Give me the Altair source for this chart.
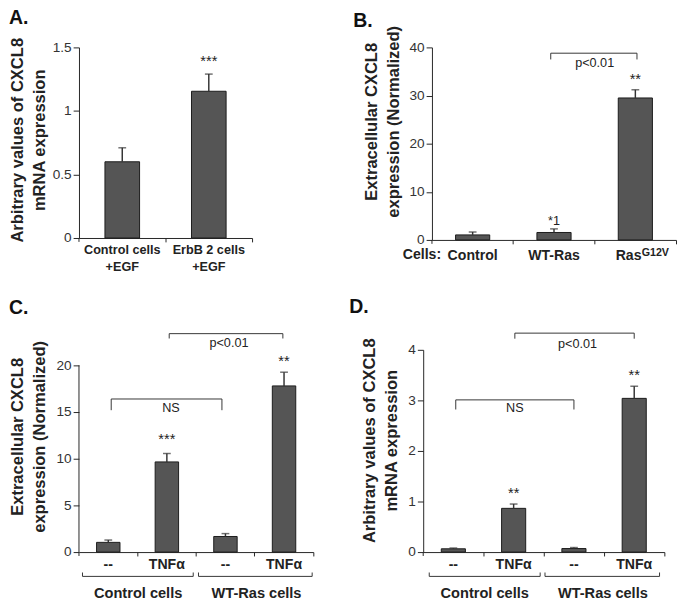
import altair as alt
import pandas as pd

FONT = "Liberation Sans"
INK = "#222222"
BAR = "#555555"

# ---------------- data ----------------
# Panel A
a_cats = ["Control cells|+EGF", "ErbB 2 cells|+EGF"]
a_vals = [0.60, 1.155]
a_errs = [0.71, 1.29]
a_star_cats = ["ErbB 2 cells|+EGF"]
a_star_vals = [1.35]
a_star_text = ["***"]

# Panel B
b_cats = ["Control", "WT-Ras", "RasG12V"]
b_vals = [1.05, 1.55, 29.5]
b_errs = [1.65, 2.3, 31.2]
b_star_cats = ["RasG12V"]
b_star_vals = [32.5]
b_star_text = ["**"]
b_note_cats = ["WT-Ras"]
b_note_vals = [3.15]
b_note_text = ["*1"]
b_br_x1 = [1.46]
b_br_x2 = [2.52]
b_br_top = [38.8]
b_br_bot = [37.5]
b_br_lx = [2.0]
b_br_ly = [36.65]
b_br_text = ["p<0.01"]

# Panel C
c_cats = ["ctl|--", "ctl|TNF\u03b1", "wt|--", "wt|TNF\u03b1"]
c_vals = [1.04, 9.66, 1.67, 17.8]
c_errs = [1.29, 10.56, 1.98, 19.27]
c_star_cats = ["ctl|TNF\u03b1", "wt|TNF\u03b1"]
c_star_vals = [11.6, 19.9]
c_star_text = ["***", "**"]
c_br_x1 = [0.55, 1.54]
c_br_x2 = [2.44, 3.48]
c_br_top = [16.4, 23.4]
c_br_bot = [15.2, 22.88]
c_br_lx = [1.57, 2.56]
c_br_ly = [15.39, 22.4]
c_br_text = ["NS", "p<0.01"]
group_names = ["Control cells", "WT-Ras cells"]
c_grp_x1 = [0.06, 2.04]
c_grp_x2 = [1.95, 3.98]
c_grp_lx = [1.01, 3.03]

# Panel D
d_cats = c_cats
d_vals = [0.065, 0.865, 0.07, 3.04]
d_errs = [0.08, 0.95, 0.09, 3.28]
d_star_cats = ["ctl|TNF\u03b1", "wt|TNF\u03b1"]
d_star_vals = [1.067, 3.41]
d_star_text = ["**", "**"]
d_br_x1 = [0.54, 1.52]
d_br_x2 = [2.50, 3.50]
d_br_top = [3.01, 4.33]
d_br_bot = [2.82, 4.22]
d_br_lx = [1.52, 2.56]
d_br_ly = [2.84, 4.115]
d_br_text = ["NS", "p<0.01"]
d_grp_x1 = [0.10, 2.02]
d_grp_x2 = [1.94, 3.92]
d_grp_lx = [1.02, 2.98]


def make_panel(letter, cats, vals, errs, star_cats, star_vals, star_text,
               W, H, ydom, yticks, ytitle, title_x, title_y,
               label_expr, label_size, label_pad, letter_dx, letter_offset,
               brackets=None, groups=None, pin=0.6, label_offset=None,
               ydomain_rule=None, extra=None):
    n = len(cats)
    xs = alt.Scale(domain=cats, paddingInner=pin, paddingOuter=pin / 2)
    xq = alt.Scale(domain=[0, n], nice=False, zero=False)
    ys = alt.Scale(domain=ydom, nice=False, zero=True)
    df = pd.DataFrame({"cat": cats, "val": vals, "err": errs})

    xkw = dict(title=None, labelExpr=label_expr, labelAngle=0, labelFont=FONT,
               labelFontWeight="bold", labelFontSize=label_size, labelColor=INK,
               labelPadding=label_pad, labelLineHeight=17, labelBaseline="top",
               bandPosition=1 + pin / (2 * (1 - pin)), tickSize=4, tickColor=INK,
               tickWidth=1, domain=True, domainColor=INK, domainWidth=1,
               labelOverlap=False)
    if label_offset is not None:
        xkw["labelOffset"] = label_offset
    xaxis = alt.Axis(**xkw)
    yaxis = alt.Axis(title=ytitle, values=yticks, format="~r", titleX=title_x,
                     titleY=title_y, titleFont=FONT, titleFontSize=17,
                     titleFontWeight="bold", titleLineHeight=23, titleColor=INK,
                     titleAngle=270, titleBaseline="bottom", titleAlign="center",
                     labelFont=FONT, labelFontSize=14, labelColor="#333333",
                     labelPadding=2, labelFlush=False, tickSize=6, tickColor=INK,
                     domain=ydomain_rule is None, domainColor=INK, grid=False)

    layers = []
    layers.append(alt.Chart(df).mark_bar(fill=BAR, stroke="#1a1a1a", strokeWidth=1).encode(
        x=alt.X("cat:N", scale=xs, sort=cats, axis=xaxis),
        y=alt.Y("val:Q", scale=ys, axis=yaxis)))
    layers.append(alt.Chart(df).mark_rule(color="#333333", strokeWidth=1.5).encode(
        x=alt.X("cat:N", scale=xs, sort=cats, axis=None),
        y=alt.Y("val:Q", scale=ys, axis=None), y2="err:Q"))
    layers.append(alt.Chart(df).mark_tick(color="#333333", thickness=1.5, size=8).encode(
        x=alt.X("cat:N", scale=xs, sort=cats, axis=None),
        y=alt.Y("err:Q", scale=ys, axis=None)))
    # origin tick of the x axis
    layers.append(alt.Chart(pd.DataFrame({"o": [0]})).mark_rule(color=INK).encode(
        x=alt.value(0), y=alt.value(H), y2=alt.value(H + 4)))
    if ydomain_rule is not None:
        rd = pd.DataFrame({"y0": [ydomain_rule[0]], "y1": [ydomain_rule[1]]})
        layers.append(alt.Chart(rd).mark_rule(color=INK).encode(
            x=alt.value(0), y=alt.Y("y0:Q", scale=ys, axis=None), y2="y1:Q"))

    sd = pd.DataFrame({"cat": star_cats, "y": star_vals, "t": star_text})
    layers.append(alt.Chart(sd).mark_text(font=FONT, fontSize=15, color=INK,
                                          baseline="alphabetic", align="center").encode(
        x=alt.X("cat:N", scale=xs, sort=cats, axis=None),
        y=alt.Y("y:Q", scale=ys, axis=None), text="t:N"))

    if brackets is not None:
        bd = pd.DataFrame(brackets)
        layers.append(alt.Chart(bd).mark_rule(color="#333333", strokeWidth=1).encode(
            x=alt.X("x1:Q", scale=xq, axis=None), x2="x2:Q",
            y=alt.Y("top:Q", scale=ys, axis=None)))
        for side in ("x1", "x2"):
            layers.append(alt.Chart(bd).mark_rule(color="#333333", strokeWidth=1).encode(
                x=alt.X(side + ":Q", scale=xq, axis=None),
                y=alt.Y("top:Q", scale=ys, axis=None), y2="bot:Q"))
        layers.append(alt.Chart(bd).mark_text(font=FONT, fontSize=13, color=INK,
                                              baseline="middle").encode(
            x=alt.X("lx:Q", scale=xq, axis=None),
            y=alt.Y("ly:Q", scale=ys, axis=None), text="txt:N"))

    if groups is not None:
        gd = pd.DataFrame(groups)
        layers.append(alt.Chart(gd).mark_rule(color="#333333", strokeWidth=1).encode(
            x=alt.X("x1:Q", scale=xq, axis=None), x2="x2:Q", y=alt.value(H + 25)))
        for side in ("x1", "x2"):
            layers.append(alt.Chart(gd).mark_rule(color="#333333", strokeWidth=1).encode(
                x=alt.X(side + ":Q", scale=xq, axis=None),
                y=alt.value(H + 25), y2=alt.value(H + 21)))
        layers.append(alt.Chart(gd).mark_text(font=FONT, fontSize=15, fontWeight="bold",
                                              color=INK, baseline="middle").encode(
            x=alt.X("lx:Q", scale=xq, axis=None), y=alt.value(H + 42), text="name:N"))

    if extra is not None:
        layers.extend(extra(xs, ys, H))

    return alt.layer(*layers).resolve_scale(x="independent").resolve_axis(
        x="independent", y="independent").properties(
        width=W, height=H,
        title=alt.TitleParams(letter, anchor="start", frame="bounds", font=FONT,
                              fontSize=20, fontWeight="bold", color="#111111",
                              offset=letter_offset, dx=letter_dx))


def b_extra(xs, ys, H):
    nd = pd.DataFrame({"cat": b_note_cats, "y": b_note_vals, "t": b_note_text})
    note = alt.Chart(nd).mark_text(font=FONT, fontSize=13, color=INK,
                                   baseline="alphabetic").encode(
        x=alt.X("cat:N", scale=xs, sort=b_cats, axis=None),
        y=alt.Y("y:Q", scale=ys, axis=None), text="t:N")
    cells = alt.Chart(pd.DataFrame({"t": ["Cells:"]})).mark_text(
        font=FONT, fontSize=14.5, fontWeight="bold", color=INK, align="left",
        baseline="top").encode(x=alt.value(-30), y=alt.value(H + 9), text="t:N")
    sup = alt.Chart(pd.DataFrame({"cat": ["RasG12V"], "t": ["G12V"]})).mark_text(
        font=FONT, fontSize=11, fontWeight="bold", color=INK, align="left",
        baseline="top", dx=6.5).encode(
        x=alt.X("cat:N", scale=xs, sort=b_cats, axis=None), y=alt.value(H + 7),
        text="t:N")
    return [note, cells, sup]


A = make_panel("A.", a_cats, a_vals, a_errs, a_star_cats, a_star_vals, a_star_text,
               W=178, H=196, ydom=[0, 1.5], yticks=[0, 0.5, 1, 1.5],
               ytitle=["Arbitrary  values of CXCL8", "mRNA expression"],
               title_x=-54, title_y=95, label_expr="split(datum.label, '|')",
               label_size=13, label_pad=2, letter_dx=0, letter_offset=7)

B = make_panel("B.", b_cats, b_vals, b_errs, b_star_cats, b_star_vals, b_star_text,
               W=251, H=198, ydom=[0, 40], yticks=[0, 10, 20, 30, 40],
               ytitle=["Extracellular CXCL8", "expression (Normalized)"],
               title_x=-53, title_y=76,
               label_expr="datum.label === 'RasG12V' ? 'Ras' : datum.label",
               label_size=14.5, label_pad=5, letter_dx=-10, letter_offset=-6,
               pin=0.58,
               label_offset={"condition": {"test": "datum.value === 'RasG12V'", "value": -7},
                             "value": 0},
               brackets={"x1": b_br_x1, "x2": b_br_x2, "top": b_br_top, "bot": b_br_bot,
                         "lx": b_br_lx, "ly": b_br_ly, "txt": b_br_text},
               extra=b_extra)

C = make_panel("C.", c_cats, c_vals, c_errs, c_star_cats, c_star_vals, c_star_text,
               W=241, H=208, ydom=[0, 20 * 208 / 192], yticks=[0, 5, 10, 15, 20],
               ytitle=["Extracellular CXCL8", "expression (Normalized)"],
               title_x=-54, title_y=89, label_expr="split(datum.label, '|')[1]",
               label_size=14.5, label_pad=2, letter_dx=0, letter_offset=16,
               ydomain_rule=(0, 20),
               brackets={"x1": c_br_x1, "x2": c_br_x2, "top": c_br_top, "bot": c_br_bot,
                         "lx": c_br_lx, "ly": c_br_ly, "txt": c_br_text},
               groups={"x1": c_grp_x1, "x2": c_grp_x2, "lx": c_grp_lx, "name": group_names})

D = make_panel("D.", d_cats, d_vals, d_errs, d_star_cats, d_star_vals, d_star_text,
               W=248, H=208, ydom=[0, 4], yticks=[0, 1, 2, 3, 4],
               ytitle=["Arbitrary  values of CXCL8", "mRNA expression"],
               title_x=-46, title_y=93, label_expr="split(datum.label, '|')[1]",
               label_size=14.5, label_pad=2, letter_dx=-12, letter_offset=16,
               brackets={"x1": d_br_x1, "x2": d_br_x2, "top": d_br_top, "bot": d_br_bot,
                         "lx": d_br_lx, "ly": d_br_ly, "txt": d_br_text},
               groups={"x1": d_grp_x1, "x2": d_grp_x2, "lx": d_grp_lx, "name": group_names})

row1 = alt.hconcat(A, B, spacing=103)
row2 = alt.hconcat(C, D, spacing=35)
chart = alt.vconcat(row1, row2, spacing=25).properties(
    padding={"left": 0, "top": -8, "right": 0, "bottom": 0}).configure(
    font=FONT).configure_view(stroke=None)

chart.save("out.html", embed_options={"renderer": "svg", "actions": False})
